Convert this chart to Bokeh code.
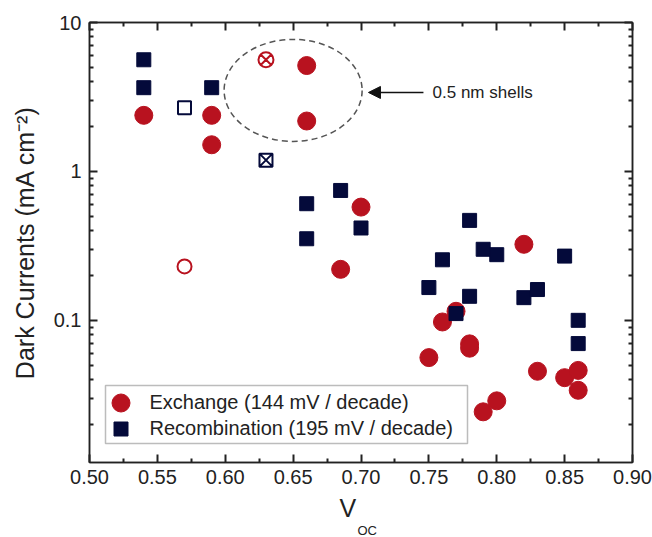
from bokeh.plotting import figure
from bokeh.models import (LinearAxis, LogAxis, FixedTicker, NumeralTickFormatter, Legend,
                          LegendItem, BoxAnnotation, Label, Arrow, NormalHead, Range1d,
                          CustomJSTickFormatter, Title)
from bokeh.embed import file_html
from bokeh.resources import INLINE

# ---------------- data ----------------
x_exchange = [0.54, 0.59, 0.59, 0.66, 0.66, 0.685, 0.70, 0.75, 0.76, 0.77,
              0.78, 0.78, 0.79, 0.80, 0.82, 0.83, 0.85, 0.86, 0.86]
y_exchange = [2.38, 2.38, 1.51, 5.14, 2.18, 0.22, 0.576, 0.0562, 0.0975, 0.115,
              0.0695, 0.065, 0.0243, 0.0288, 0.324, 0.0455, 0.0412, 0.0461, 0.0339]

x_recomb = [0.54, 0.54, 0.59, 0.66, 0.66, 0.685, 0.70, 0.75, 0.76, 0.77,
            0.78, 0.78, 0.79, 0.80, 0.82, 0.83, 0.85, 0.86, 0.86]
y_recomb = [5.62, 3.65, 3.65, 0.607, 0.353, 0.745, 0.417, 0.166, 0.255, 0.111,
            0.469, 0.145, 0.300, 0.276, 0.142, 0.161, 0.270, 0.100, 0.0698]

x_open_circle = [0.57]
y_open_circle = [0.23]
x_open_square = [0.57]
y_open_square = [2.68]
x_crossed_circle = [0.63]
y_crossed_circle = [5.62]
x_crossed_square = [0.63]
y_crossed_square = [1.19]

x_range_lims = [0.50, 0.90]
y_range_lims = [0.0111, 10]
x_ticks = [0.50, 0.55, 0.60, 0.65, 0.70, 0.75, 0.80, 0.85, 0.90]
x_minor_ticks = [0.525, 0.575, 0.625, 0.675, 0.725, 0.775, 0.825, 0.875]
y_ticks = [0.1, 1, 10]
y_minor_ticks = [0.02, 0.03, 0.04, 0.05, 0.06, 0.07, 0.08, 0.09,
                 0.2, 0.3, 0.4, 0.5, 0.6, 0.7, 0.8, 0.9,
                 2, 3, 4, 5, 6, 7, 8, 9]

legend_labels = ["Exchange (144 mV / decade)", "Recombination (195 mV / decade)"]
y_label = "Dark Currents (mA cm\u207b\u00b2)"
x_label_main, x_label_sub = "V", "OC"
annotation_text = "0.5 nm shells"

# annotation placement
ellipse_x, ellipse_y = 0.65, 3.5
arrow_x_start, arrow_x_end, arrow_y = 0.746, 0.7055, 3.39
note_x, note_y = 0.7527, 3.39

RED = "#B8121F"
NAVY = "#040A3A"
AX = "#222222"
TXT = "#222222"
FONT = "Liberation Sans"

x_lo, x_hi = x_range_lims
y_lo, y_hi = y_range_lims

p = figure(width=652, height=537, x_range=Range1d(x_lo, x_hi), y_range=Range1d(y_lo, y_hi),
           y_axis_type="log", output_backend="svg", toolbar_location=None,
           min_border_left=89, min_border_right=20, min_border_top=22, min_border_bottom=75)
p.xgrid.visible = False
p.ygrid.visible = False
p.outline_line_color = AX
p.outline_line_width = 1.5
p.background_fill_color = "white"
p.border_fill_color = "white"

xt = FixedTicker(ticks=x_ticks, minor_ticks=x_minor_ticks)
yt = FixedTicker(ticks=y_ticks, minor_ticks=y_minor_ticks)
blank = CustomJSTickFormatter(code="return ''")


def style(ax, labels=True):
    ax.major_tick_in = 8
    ax.major_tick_out = 0
    ax.minor_tick_in = 4
    ax.minor_tick_out = 0
    ax.major_tick_line_width = 2
    ax.minor_tick_line_width = 2
    ax.major_tick_line_color = AX
    ax.minor_tick_line_color = AX
    ax.axis_line_width = 1.5
    ax.axis_line_color = AX
    ax.major_label_text_font = FONT
    ax.major_label_text_color = TXT
    if labels:
        ax.major_label_text_font_size = "20px"
    else:
        ax.formatter = blank
        ax.major_label_text_font_size = "6px"
        ax.major_label_standoff = 0


bx = p.below[0]
bx.ticker = xt
bx.formatter = NumeralTickFormatter(format="0.00")
bx.major_label_standoff = 7
style(bx)

ly = p.left[0]
ly.ticker = yt
ly.formatter = NumeralTickFormatter(format="0.[0]")
ly.major_label_standoff = 8
ly.axis_label = y_label
ly.axis_label_text_font = FONT
ly.axis_label_text_font_size = "25px"
ly.axis_label_text_font_style = "normal"
ly.axis_label_text_color = TXT
ly.axis_label_standoff = 12
style(ly)

top = LinearAxis(ticker=xt)
style(top, labels=False)
p.add_layout(top, "above")
right = LogAxis(ticker=yt)
style(right, labels=False)
p.add_layout(right, "right")

# x axis title: V with subscript OC
p.add_layout(Title(text=x_label_main, align="left", offset=250, standoff=10,
                   vertical_align="bottom", text_font=FONT, text_font_size="25px",
                   text_font_style="normal", text_color=TXT), "below")
p.add_layout(Title(text=x_label_sub, align="left", offset=268, standoff=-11,
                   vertical_align="bottom", text_font=FONT, text_font_size="13px",
                   text_font_style="normal", text_color=TXT), "below")

# ---------------- glyphs ----------------
r_ex = p.scatter(x_exchange, y_exchange, marker="circle", size=18,
                 fill_color=RED, line_color=RED, line_width=1)
p.scatter(x_open_circle, y_open_circle, marker="circle", size=14,
          fill_color="white", line_color=RED, line_width=2)
p.scatter(x_crossed_circle, y_crossed_circle, marker="circle_x", size=15,
          fill_color="white", line_color=RED, line_width=2)
r_re = p.scatter(x_recomb, y_recomb, marker="square", size=14,
                 fill_color=NAVY, line_color=NAVY, line_width=1)
p.scatter(x_open_square, y_open_square, marker="square", size=13,
          fill_color="white", line_color=NAVY, line_width=2)
p.scatter(x_crossed_square, y_crossed_square, marker="square_x", size=13,
          fill_color="white", line_color=NAVY, line_width=2)

p.ellipse(x=[ellipse_x], y=[ellipse_y], width=138, height=102,
          width_units="screen", height_units="screen",
          fill_color=None, line_color="#555555", line_width=1.5, line_dash="6 4")

p.add_layout(Arrow(end=NormalHead(size=12, fill_color="#111111", line_color="#111111"),
                   x_start=arrow_x_start, y_start=arrow_y, x_end=arrow_x_end, y_end=arrow_y,
                   line_width=1.5, line_color="#111111"))
p.add_layout(Label(x=note_x, y=note_y, text=annotation_text, text_font=FONT,
                   text_font_size="17px", text_baseline="middle", text_color=TXT))

# ---------------- legend ----------------
p.add_layout(BoxAnnotation(left=16, right=378, top=77, bottom=19,
                           left_units="screen", right_units="screen",
                           top_units="screen", bottom_units="screen",
                           fill_color="white", fill_alpha=1,
                           line_color=AX, line_width=1.5))


def make_legend(label, rend, loc, g, standoff):
    return Legend(items=[LegendItem(label=label, renderers=[rend])], location=loc,
                  glyph_width=g, glyph_height=g, padding=0, margin=0, spacing=0,
                  label_standoff=standoff, border_line_alpha=0, background_fill_alpha=0,
                  label_text_font=FONT, label_text_font_size="20px", label_text_color=TXT)


p.add_layout(make_legend(legend_labels[0], r_ex, (8.5, 37.5), 45, 7))
p.add_layout(make_legend(legend_labels[1], r_re, (13.5, 16.5), 35, 12))

open("out.html", "w").write(file_html(p, INLINE))
